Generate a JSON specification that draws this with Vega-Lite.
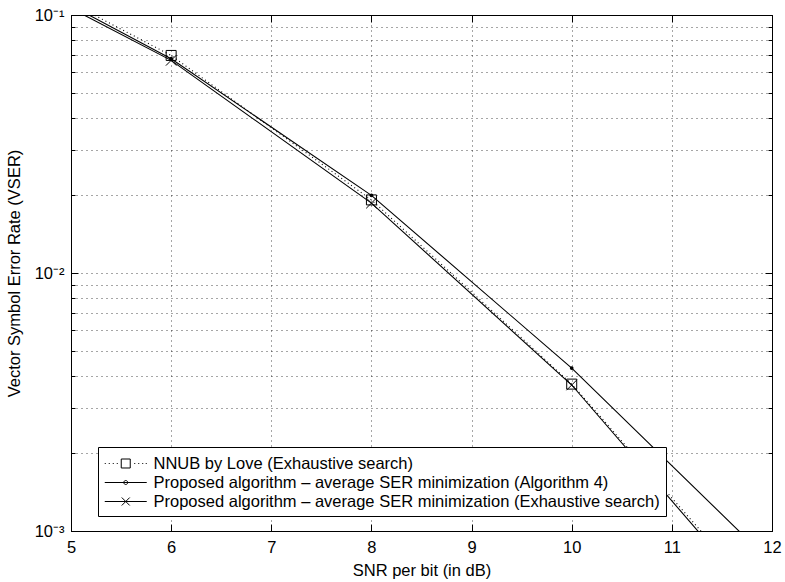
{
  "$schema": "https://vega.github.io/schema/vega-lite/v6.json",
  "width": 701,
  "height": 516,
  "autosize": {"type": "none"},
  "padding": {"left": 71, "top": 15, "right": 13, "bottom": 51},
  "background": "white",
  "config": {
    "font": "Liberation Sans",
    "view": {"stroke": "black", "strokeWidth": 1},
    "axis": {
      "domainColor": "black", "tickColor": "black", "labelColor": "black", "titleColor": "black",
      "labelFont": "Liberation Sans", "labelFontSize": 16.5, "titleFont": "Liberation Sans",
      "titleFontSize": 16.5, "titleFontWeight": "normal", "gridColor": "black", "gridOpacity": 0.7,
      "gridDash": [1, 4], "gridWidth": 1, "labelFlush": false, "labelOverlap": false
    }
  },
  "data": {
    "values": [
      {"snr": 4, "ser": 0.178, "series": "NNUB by Love (Exhaustive search)"},
      {"snr": 6, "ser": 0.0697, "series": "NNUB by Love (Exhaustive search)"},
      {"snr": 8, "ser": 0.0192, "series": "NNUB by Love (Exhaustive search)"},
      {"snr": 10, "ser": 0.00371, "series": "NNUB by Love (Exhaustive search)"},
      {"snr": 12, "ser": 0.000486, "series": "NNUB by Love (Exhaustive search)"},
      {"snr": 4, "ser": 0.175, "series": "Proposed algorithm – average SER minimization (Algorithm 4)"},
      {"snr": 6, "ser": 0.0677, "series": "Proposed algorithm – average SER minimization (Algorithm 4)"},
      {"snr": 8, "ser": 0.0200, "series": "Proposed algorithm – average SER minimization (Algorithm 4)"},
      {"snr": 10, "ser": 0.00428, "series": "Proposed algorithm – average SER minimization (Algorithm 4)"},
      {"snr": 12, "ser": 0.00075, "series": "Proposed algorithm – average SER minimization (Algorithm 4)"},
      {"snr": 4, "ser": 0.169, "series": "Proposed algorithm – average SER minimization (Exhaustive search)"},
      {"snr": 6, "ser": 0.0667, "series": "Proposed algorithm – average SER minimization (Exhaustive search)"},
      {"snr": 8, "ser": 0.01866, "series": "Proposed algorithm – average SER minimization (Exhaustive search)"},
      {"snr": 10, "ser": 0.00368, "series": "Proposed algorithm – average SER minimization (Exhaustive search)"},
      {"snr": 12, "ser": 0.000465, "series": "Proposed algorithm – average SER minimization (Exhaustive search)"}
    ]
  },
  "layer": [
    {
      "transform": [{"filter": "datum.series == 'NNUB by Love (Exhaustive search)'"}],
      "mark": {"type": "line", "clip": true, "color": "black", "strokeWidth": 1.1, "strokeDash": [1, 3]},
      "encoding": {
        "x": {
          "field": "snr", "type": "quantitative",
          "scale": {"domain": [5, 12], "nice": false, "zero": false},
          "axis": {
            "orient": "bottom", "values": [5, 6, 7, 8, 9, 10, 11, 12], "format": "d",
            "grid": true, "tickSize": -7, "labelPadding": 15,
            "title": "SNR per bit (in dB)", "titleBaseline": "alphabetic", "titleY": 44
          }
        },
        "y": {
          "field": "ser", "type": "quantitative",
          "scale": {"type": "log", "domain": [0.001, 0.1], "nice": false},
          "axis": {
            "orient": "left",
            "values": [0.001, 0.002, 0.003, 0.004, 0.005, 0.006, 0.007, 0.008, 0.009, 0.01, 0.02, 0.03, 0.04, 0.05, 0.06, 0.07, 0.08, 0.09, 0.1],
            "labelExpr": "datum.value == 0.1 ? '10⁻¹' : datum.value == 0.01 ? '10⁻²' : datum.value == 0.001 ? '10⁻³' : ''",
            "grid": true,
            "tickSize": {"condition": {"test": "datum.value == 0.1 || datum.value == 0.01 || datum.value == 0.001", "value": -7}, "value": -4},
            "labelPadding": 14,
            "title": "Vector Symbol Error Rate (VSER)", "titleX": -57, "titleY": 258, "titleBaseline": "middle", "titleAngle": -90
          }
        }
      }
    },
    {
      "transform": [{"filter": "datum.series == 'Proposed algorithm – average SER minimization (Algorithm 4)'"}],
      "mark": {"type": "line", "clip": true, "color": "black", "strokeWidth": 1.1},
      "encoding": {
        "x": {"field": "snr", "type": "quantitative", "axis": null},
        "y": {"field": "ser", "type": "quantitative", "axis": null}
      }
    },
    {
      "transform": [{"filter": "datum.series == 'Proposed algorithm – average SER minimization (Exhaustive search)'"}],
      "mark": {"type": "line", "clip": true, "color": "black", "strokeWidth": 1.1},
      "encoding": {
        "x": {"field": "snr", "type": "quantitative", "axis": null},
        "y": {"field": "ser", "type": "quantitative", "axis": null}
      }
    },
    {
      "transform": [{"filter": "datum.series == 'NNUB by Love (Exhaustive search)'"}],
      "mark": {"type": "point", "shape": "square", "filled": false, "size": 100, "color": "black", "strokeWidth": 1, "opacity": 1, "clip": true},
      "encoding": {
        "x": {"field": "snr", "type": "quantitative", "axis": null},
        "y": {"field": "ser", "type": "quantitative", "axis": null}
      }
    },
    {
      "transform": [{"filter": "datum.series == 'Proposed algorithm – average SER minimization (Algorithm 4)'"}],
      "mark": {"type": "circle", "size": 14, "color": "black", "opacity": 1, "clip": true},
      "encoding": {
        "x": {"field": "snr", "type": "quantitative", "axis": null},
        "y": {"field": "ser", "type": "quantitative", "axis": null}
      }
    },
    {
      "transform": [{"filter": "datum.series == 'Proposed algorithm – average SER minimization (Exhaustive search)'"}],
      "mark": {"type": "point", "shape": "M-1,-1L1,1M-1,1L1,-1", "filled": false, "size": 110, "color": "black", "strokeWidth": 1, "opacity": 1, "clip": true},
      "encoding": {
        "x": {"field": "snr", "type": "quantitative", "axis": null},
        "y": {"field": "ser", "type": "quantitative", "axis": null}
      }
    },
    {
      "mark": {"type": "point", "filled": false, "size": 380, "opacity": 0, "color": "black", "strokeWidth": 1, "clip": true},
      "encoding": {
        "x": {
          "field": "snr", "type": "quantitative",
          "axis": {"orient": "top", "values": [5, 6, 7, 8, 9, 10, 11, 12], "labels": false, "tickSize": -7, "grid": false, "title": null, "domain": false}
        },
        "y": {
          "field": "ser", "type": "quantitative",
          "axis": {
            "orient": "right",
            "values": [0.001, 0.002, 0.003, 0.004, 0.005, 0.006, 0.007, 0.008, 0.009, 0.01, 0.02, 0.03, 0.04, 0.05, 0.06, 0.07, 0.08, 0.09, 0.1],
            "labels": false, "grid": false, "title": null, "domain": false,
            "tickSize": {"condition": {"test": "datum.value == 0.1 || datum.value == 0.01 || datum.value == 0.001", "value": -7}, "value": -4}
          }
        },
        "shape": {
          "field": "series", "type": "nominal",
          "scale": {
            "domain": ["NNUB by Love (Exhaustive search)", "Proposed algorithm – average SER minimization (Algorithm 4)", "Proposed algorithm – average SER minimization (Exhaustive search)"],
            "range": [
              "M-1,0h0.103M-0.59,0h0.103M-0.179,0h0.103M0.231,0h0.103M0.692,-0.4615H1.615V0.4615H0.692ZM2.026,0h0.103M2.436,0h0.103M2.846,0h0.103M3.205,0h0.103",
              "M-1,0H3.308M1.359,0A0.205,0.205,0,1,1,0.949,0A0.205,0.205,0,1,1,1.359,0Z",
              "M-1,0H3.308M0.744,-0.41L1.564,0.41M0.744,0.41L1.564,-0.41"
            ]
          },
          "legend": {
            "title": null, "orient": "none", "legendX": 27, "legendY": 432, "direction": "vertical",
            "padding": 6, "strokeColor": "black", "fillColor": "white", "cornerRadius": 0,
            "labelFont": "Liberation Sans", "labelFontSize": 16.5, "labelColor": "black", "labelLimit": 700,
            "labelOffset": 28.5, "rowPadding": 0, "symbolSize": 380, "symbolOpacity": 1, "symbolStrokeColor": "black",
            "symbolStrokeWidth": 1, "symbolOffset": 0,
            "encode": {
              "symbols": {
                "update": {
                  "opacity": {"value": 1},
                  "stroke": {"value": "black"},
                  "fill": {"signal": "indexof(datum.value, 'Algorithm 4') >= 0 ? 'black' : 'transparent'"}
                }
              }
            }
          }
        }
      }
    }
  ],
  "resolve": {"axis": {"x": "independent", "y": "independent"}}
}
